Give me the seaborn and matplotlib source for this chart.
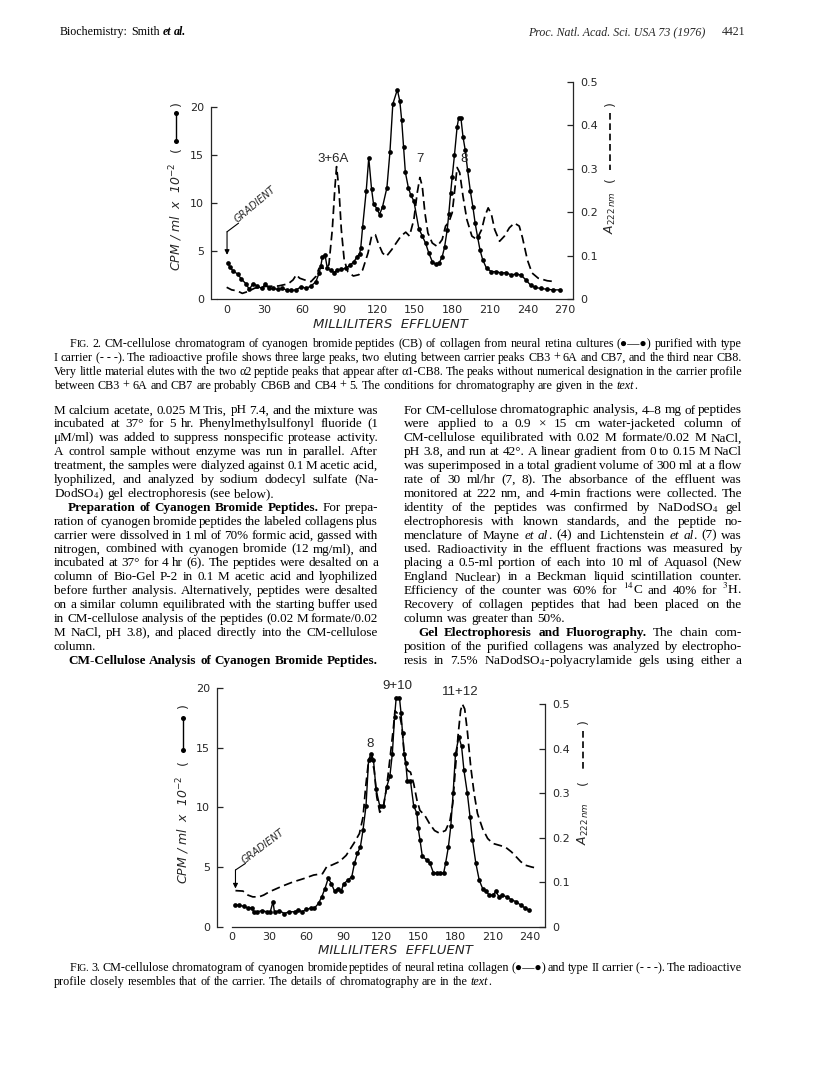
import re
import matplotlib
matplotlib.use("Agg")
import matplotlib.pyplot as plt
from matplotlib.lines import Line2D
from matplotlib import font_manager
import seaborn as sns

# ---------------- data ----------------
# Fig. 2 : radioactivity (CPM/ml x 10^-2) of neural retina collagen peptides
fig2_cpm_ml = [1.1, 2.5, 5.4, 8.8, 11.6, 15.3, 18.1, 21, 24.6, 28, 30.8, 33.9, 37.3, 40.7, 44.4,
               47.8, 51.7, 55.6, 59.5, 63.4, 67.3, 71.2, 73.8, 75.1, 76.4, 78.5, 80.3, 82.9, 85.6,
               88.2, 91.5, 95.2, 98.7, 101.7, 104, 106.1, 107, 108.5, 111.4, 113.4, 115.6, 117.2,
               120, 122, 124.4, 127.9, 130.3, 132.6, 136.2, 138.2, 139.7, 141.2, 142.6, 145, 147,
               149.4, 153.4, 156, 158.8, 161.4, 164.1, 166.7, 169.4, 172, 173.9, 176, 177.3, 178.7,
               180, 181.8, 183.9, 185.2, 187, 188.6, 190.4, 192.3, 194.4, 196.5, 198.3, 200.2,
               202.2, 204.3, 207.4, 211.3, 215.2, 219.1, 223.1, 227, 230.9, 234.8, 238.7, 242.5,
               246.1, 251, 256, 260.8, 265.7]
fig2_cpm = [3.8, 3.3, 2.9, 2.6, 2.1, 1.6, 1.0, 1.6, 1.35, 1.1, 1.55, 1.1, 1.1, 1.0, 1.1, 0.95, 0.9,
            0.95, 1.3, 1.1, 1.35, 1.8, 2.7, 3.4, 4.4, 4.6, 3.2, 3.0, 2.75, 3.0, 3.1, 3.2, 3.55, 3.9,
            4.4, 4.7, 5.3, 7.5, 11.3, 14.7, 11.5, 9.9, 9.4, 8.8, 9.6, 11.6, 15.3, 20.3, 21.8, 20.6,
            18.6, 15.8, 13.2, 11.6, 10.8, 10.2, 7.3, 6.6, 5.8, 4.75, 3.9, 3.6, 3.7, 4.4, 5.4, 7.2,
            8.9, 11.0, 12.7, 15.0, 17.9, 18.9, 18.8, 16.9, 15.5, 13.4, 11.3, 9.6, 7.9, 6.5, 5.1,
            4.1, 3.2, 2.85, 2.85, 2.7, 2.75, 2.5, 2.6, 2.5, 2.0, 1.45, 1.2, 1.1, 1.0, 0.95, 0.95]
# Fig. 2 : carrier absorbance A222nm
fig2_abs_ml = [0, 4, 8.2, 12.5, 16.7, 22.4, 30.8, 41.2, 49.1, 53, 55.6, 58.2, 62.1, 67.3, 71.2,
               73.8, 79, 81.6, 84.3, 86.3, 87.7, 89.6, 91.5, 93.8, 96.7, 101.1, 105.5, 108.5,
               112.8, 115.7, 118.7, 120.9, 124.4, 127.4, 131.8, 135.3, 139.1, 142.9, 145.9, 149.4,
               152.1, 154.2, 156.1, 158.2, 160.6, 164.1, 168, 172, 174.7, 177.3, 180, 182.1, 183.9,
               186, 188.6, 191.7, 195.7, 199.6, 203.5, 206.1, 208.7, 211.3, 213.9, 217.8, 221.7,
               225.6, 229.6, 233.5, 236.1, 240, 243.7, 248.6, 255.9, 262]
fig2_abs = [0.027, 0.021, 0.019, 0.013, 0.017, 0.025, 0.029, 0.030, 0.035, 0.044, 0.056, 0.048,
            0.044, 0.040, 0.052, 0.071, 0.071, 0.079, 0.16, 0.253, 0.305, 0.253, 0.16, 0.09, 0.063,
            0.053, 0.056, 0.067, 0.106, 0.145, 0.148, 0.129, 0.106, 0.098, 0.114, 0.129, 0.145,
            0.154, 0.145, 0.183, 0.245, 0.28, 0.26, 0.199, 0.152, 0.129, 0.121, 0.137, 0.168,
            0.177, 0.199, 0.253, 0.303, 0.291, 0.237, 0.183, 0.145, 0.137, 0.16, 0.191, 0.21,
            0.195, 0.16, 0.133, 0.145, 0.164, 0.175, 0.168, 0.141, 0.09, 0.06, 0.048, 0.042, 0.040]

# Fig. 3 : radioactivity of neural retina collagen peptides
fig3_cpm_ml = [3, 6, 10, 13.4, 16.3, 17.7, 20.7, 24.4, 28, 31, 33.2, 34.4, 38.3, 42.3, 45.9, 50.5,
               53.5, 56.5, 60, 63.4, 66.5, 69.8, 72.4, 75, 77.6, 80.2, 82.8, 85.3, 88, 90, 93.6,
               96.6, 98.7, 101.1, 103.5, 105.6, 108, 110.1, 112.2, 114, 116.1, 119.1, 122, 124.6,
               127.2, 129.2, 131, 132.3, 134.9, 136.2, 137.4, 138.7, 140, 141.3, 143.8, 146.4, 149,
               150, 151.4, 153.3, 156.8, 159.5, 162.3, 165, 167.8, 170.5, 172, 174.3, 176.2, 178.1,
               180, 182.7, 184.9, 186.8, 189.5, 191.7, 193.6, 196.4, 199.1, 201.8, 204.5, 207.3,
               210, 212.5, 215, 217.5, 221.3, 225, 228.8, 232.5, 236.3, 238.8]
fig3_cpm = [1.8, 1.8, 1.7, 1.55, 1.6, 1.2, 1.25, 1.35, 1.25, 1.25, 2.1, 1.2, 1.35, 1.1, 1.25, 1.25,
            1.4, 1.25, 1.45, 1.55, 1.55, 1.95, 2.5, 3.2, 4.05, 3.6, 2.95, 3.2, 2.95, 3.6, 3.9, 4.2,
            5.3, 6.15, 6.7, 8.1, 10.1, 14.0, 14.5, 14.0, 11.5, 10.1, 10.1, 11.7, 12.6, 14.5, 17.6,
            19.2, 19.2, 17.9, 16.2, 14.5, 13.7, 12.2, 12.2, 10.1, 9.5, 8.25, 7.3, 5.9, 5.6, 5.3,
            4.5, 4.5, 4.5, 4.5, 5.3, 6.7, 8.4, 11.2, 14.5, 15.9, 15.1, 13.1, 11.2, 9.2, 7.3, 5.3,
            3.9, 3.2, 2.95, 2.65, 2.65, 2.95, 2.5, 2.65, 2.5, 2.25, 2.1, 1.8, 1.55, 1.4]
# Fig. 3 : carrier absorbance
fig3_abs_ml = [3, 9, 13, 16.9, 21.9, 25.7, 30, 39.7, 48.8, 57.9, 65.9, 73, 76.7, 80.2, 86.6, 92,
               98.2, 102.7, 105.6, 107.7, 110.1, 112.4, 114.6, 116.7, 119.1, 122, 124.6, 127.7,
               130.1, 131.3, 133.6, 134.9, 137, 138.7, 141.3, 143.8, 146.4, 149, 151.4, 155.3,
               159.2, 163.1, 167, 172, 175.6, 177.8, 180, 182.2, 184.1, 185.5, 187.4, 189.5, 192.3,
               195, 197.7, 201.8, 205.9, 210, 215, 220, 225, 228.8, 232.5, 236.3, 241.3, 246.3]
fig3_abs = [0.081, 0.080, 0.071, 0.067, 0.067, 0.071, 0.078, 0.09, 0.10, 0.108, 0.116, 0.119,
            0.136, 0.138, 0.146, 0.16, 0.187, 0.209, 0.246, 0.313, 0.373, 0.381, 0.351, 0.291,
            0.257, 0.269, 0.313, 0.388, 0.448, 0.485, 0.478, 0.478, 0.448, 0.388, 0.351, 0.347,
            0.321, 0.284, 0.261, 0.25, 0.231, 0.216, 0.21, 0.216, 0.239, 0.276, 0.358, 0.433,
            0.485, 0.5, 0.489, 0.44, 0.358, 0.299, 0.254, 0.22, 0.198, 0.187, 0.183, 0.179,
            0.168, 0.157, 0.146, 0.138, 0.134, 0.131]

fig2_xticks = [0, 30, 60, 90, 120, 150, 180, 210, 240, 270]
fig3_xticks = [0, 30, 60, 90, 120, 150, 180, 210, 240]
cpm_ticks = [0, 5, 10, 15, 20]
abs_ticks = [0, 0.1, 0.2, 0.3, 0.4, 0.5]
abs_ticklabels = ["0", "0.1", "0.2", "0.3", "0.4", "0.5"]
fig2_peaks = ["3+6A", "7", "8"]
fig2_peak_pos = [(85, 14.6), (154, 14.6), (189.5, 14.6)]
fig3_peaks = ["8", "9+10", "11+12"]
fig3_peak_pos = [(111.5, 15.3), (133, 20.2), (184, 19.7)]

header_left = "Biochemistry:  Smith <j>et al.</j>"
header_right = "Proc. Natl. Acad. Sci. USA 73 (1976)"
page_no = "4421"

cap2 = [
    (True, "F<s>IG.</s> 2.  CM-cellulose chromatogram of cyanogen bromide peptides (CB) of collagen from neural retina cultures (\u25cf\u2014\u25cf) purified with type", True),
    (False, "I carrier (-\u00a0-\u00a0-). The radioactive profile shows three large peaks, two eluting between carrier peaks CB3 + 6A and CB7, and the third near CB8.", True),
    (False, "Very little material elutes with the two \u03b12 peptide peaks that appear after \u03b11-CB8. The peaks without numerical designation in the carrier profile", True),
    (False, "between CB3 + 6A and CB7 are probably CB6B and CB4 + 5. The conditions for chromatography are given in the <i>text</i>.", False),
]
cap3 = [
    (True, "F<s>IG.</s> 3.  CM-cellulose chromatogram of cyanogen bromide peptides of neural retina collagen (\u25cf\u2014\u25cf) and type II carrier (-\u00a0-\u00a0-). The radioactive", True),
    (False, "profile closely resembles that of the carrier. The details of chromatography are in the <i>text</i>.", False),
]
left_col = [
    (False, "M calcium acetate, 0.025 M Tris, pH 7.4, and the mixture was", True),
    (False, "incubated at 37\u00b0 for 5 hr. Phenylmethylsulfonyl fluoride (1", True),
    (False, "\u03bcM/ml) was added to suppress nonspecific protease activity.", True),
    (False, "A control sample without enzyme was run in parallel. After", True),
    (False, "treatment, the samples were dialyzed against 0.1 M acetic acid,", True),
    (False, "lyophilized, and analyzed by sodium dodecyl sulfate (Na-", True),
    (False, "DodSO$_4$) gel electrophoresis (see below).", False),
    (True, "<b>Preparation of Cyanogen Bromide Peptides.</b> For prepa-", True),
    (False, "ration of cyanogen bromide peptides the labeled collagens plus", True),
    (False, "carrier were dissolved in 1 ml of 70% formic acid, gassed with", True),
    (False, "nitrogen, combined with cyanogen bromide (12 mg/ml), and", True),
    (False, "incubated at 37\u00b0 for 4 hr (6). The peptides were desalted on a", True),
    (False, "column of Bio-Gel P-2 in 0.1 M acetic acid and lyophilized", True),
    (False, "before further analysis. Alternatively, peptides were desalted", True),
    (False, "on a similar column equilibrated with the starting buffer used", True),
    (False, "in CM-cellulose analysis of the peptides (0.02 M formate/0.02", True),
    (False, "M NaCl, pH 3.8), and placed directly into the CM-cellulose", True),
    (False, "column.", False),
    (True, "<b>CM-Cellulose Analysis of Cyanogen Bromide Peptides.</b>", True),
]
right_col = [
    (False, "For CM-cellulose chromatographic analysis, 4\u20138 mg of peptides", True),
    (False, "were applied to a 0.9 \u00d7 15 cm water-jacketed column of", True),
    (False, "CM-cellulose equilibrated with 0.02 M formate/0.02 M NaCl,", True),
    (False, "pH 3.8, and run at 42\u00b0. A linear gradient from 0 to 0.15 M NaCl", True),
    (False, "was superimposed in a total gradient volume of 300 ml at a flow", True),
    (False, "rate of 30 ml/hr (7, 8). The absorbance of the effluent was", True),
    (False, "monitored at 222 nm, and 4-min fractions were collected. The", True),
    (False, "identity of the peptides was confirmed by NaDodSO$_4$ gel", True),
    (False, "electrophoresis with known standards, and the peptide no-", True),
    (False, "menclature of Mayne <i>et al</i>. (4) and Lichtenstein <i>et al</i>. (7) was", True),
    (False, "used. Radioactivity in the effluent fractions was measured by", True),
    (False, "placing a 0.5-ml portion of each into 10 ml of Aquasol (New", True),
    (False, "England Nuclear) in a Beckman liquid scintillation counter.", True),
    (False, "Efficiency of the counter was 60% for $^{14}$C and 40% for $^{3}$H.", True),
    (False, "Recovery of collagen peptides that had been placed on the", True),
    (False, "column was greater than 50%.", False),
    (True, "<b>Gel Electrophoresis and Fluorography.</b> The chain com-", True),
    (False, "position of the purified collagens was analyzed by electropho-", True),
    (False, "resis in 7.5% NaDodSO$_4$-polyacrylamide gels using either a", True),
]

# ---------------- setup ----------------
sns.set_style("white")
plt.rcParams["font.family"] = ["DejaVu Sans"]
FW, FH = 816, 1078
fig = plt.figure(figsize=(FW / 100, FH / 100), dpi=100)
fig.patch.set_facecolor("white")
renderer = fig.canvas.get_renderer()

names = {f.name for f in font_manager.fontManager.ttflist}
NARROW = "Liberation Sans Narrow" if "Liberation Sans Narrow" in names else "Liberation Sans"
SERIF = "Liberation Serif"
HEAD = "Liberation Serif"
SANS = "DejaVu Sans"


def rect(l, t, r, b):
    return [l / FW, 1 - b / FH, (r - l) / FW, (b - t) / FH]


def ftext(x, y, s, **kw):
    return fig.text(x / FW, 1 - y / FH, s, **kw)


def fline(xs, ys, **kw):
    ln = Line2D([x / FW for x in xs], [1 - y / FH for y in ys], transform=fig.transFigure, **kw)
    fig.add_artist(ln)


# ---------------- charts ----------------
def chart(box, xlim, ylim_l, ylim_r, bottom_bounds, xticks, cx, cy, ax_, ay):
    ax = fig.add_axes(rect(*box))
    sns.lineplot(x=cx, y=cy, ax=ax, color="black", linewidth=1.0, marker="o",
                 markersize=3.4, markeredgewidth=0, sort=False)
    axr = ax.twinx()
    sns.lineplot(x=ax_, y=ay, ax=axr, color="black", linewidth=1.25,
                 linestyle=(0, (5, 2.6)), sort=False)
    ax.set_xlim(*xlim)
    ax.set_ylim(*ylim_l)
    axr.set_ylim(*ylim_r)
    for a in (ax, axr):
        a.set_xlabel("")
        a.set_ylabel("")
        a.patch.set_visible(False)
    ax.spines["top"].set_visible(False)
    ax.spines["right"].set_visible(False)
    ax.spines["left"].set_bounds(0, 20)
    ax.spines["bottom"].set_bounds(*bottom_bounds)
    for s in ("top", "left", "bottom"):
        axr.spines[s].set_visible(False)
    axr.spines["right"].set_bounds(0, 0.5)
    for sp in list(ax.spines.values()) + list(axr.spines.values()):
        sp.set_linewidth(0.9)
    ax.set_xticks(xticks)
    ax.set_xticklabels([str(v) for v in xticks])
    ax.set_yticks(cpm_ticks)
    ax.set_yticklabels([str(v) for v in cpm_ticks])
    axr.set_yticks(abs_ticks)
    axr.set_yticklabels(abs_ticklabels)
    ax.tick_params(axis="both", direction="in", length=4, width=0.9, labelsize=8)
    ax.tick_params(axis="x", pad=4)
    ax.tick_params(axis="y", pad=5)
    axr.tick_params(axis="y", direction="in", length=4, width=0.9, labelsize=8, pad=5)
    return ax, axr


ax2, ax2r = chart((211, 82, 573, 299), (-12.5, 276.4), (0, 22.6), (0, 0.5), (-8, 276.4),
                  fig2_xticks, fig2_cpm_ml, fig2_cpm, fig2_abs_ml, fig2_abs)
ax3, ax3r = chart((216.7, 688, 545, 926.7), (-12.1, 252), (0, 20), (0, 0.536), (0, 252),
                  fig3_xticks, fig3_cpm_ml, fig3_cpm, fig3_abs_ml, fig3_abs)

for lab, (px, py) in zip(fig2_peaks, fig2_peak_pos):
    ax2.text(px, py, lab, ha="center", va="center", fontsize=9.5, family=NARROW, clip_on=False)
for lab, (px, py) in zip(fig3_peaks, fig3_peak_pos):
    ax3.text(px, py, lab, ha="center", va="center", fontsize=9.5, family=NARROW, clip_on=False)

# gradient arrows
ax2.annotate("", xy=(0.3, 4.6), xytext=(0.3, 7.0),
             arrowprops=dict(arrowstyle="-|>", lw=0.8, color="black", mutation_scale=7,
                             shrinkA=0, shrinkB=0))
ax2.annotate("", xy=(0.3, 7.0), xytext=(9.5, 7.9),
             arrowprops=dict(arrowstyle="-", lw=0.8, color="black", shrinkA=0, shrinkB=0))
ax2.text(10.0, 7.75, "GRADIENT", rotation=40, rotation_mode="anchor", ha="left", va="bottom",
         fontsize=7, style="italic")
ax3.annotate("", xy=(3, 3.2), xytext=(3, 4.75),
             arrowprops=dict(arrowstyle="-|>", lw=0.8, color="black", mutation_scale=7,
                             shrinkA=0, shrinkB=0))
ax3.annotate("", xy=(3, 4.75), xytext=(11, 5.3),
             arrowprops=dict(arrowstyle="-", lw=0.8, color="black", shrinkA=0, shrinkB=0))
ax3.text(11.5, 5.15, "GRADIENT", rotation=37, rotation_mode="anchor", ha="left", va="bottom",
         fontsize=7, style="italic")


# axis labels (figure-pixel placement)
def axis_labels(xl, yl_x, yl_y, sym_x, sym_y0, sym_y1, par_lo, par_hi,
                ar_x, ar_y, dash_y0, dash_y1, apar_lo, apar_hi):
    ftext(xl[0], xl[1], "MILLILITERS  EFFLUENT", ha="center", va="center", fontsize=9.5,
          style="italic", family=SANS)
    ftext(yl_x, yl_y, "CPM / ml  x  10$^{-2}$", rotation=90, ha="center", va="center",
          fontsize=9, style="italic", family=SANS)
    ftext(sym_x, par_lo, "(", rotation=90, ha="center", va="center", fontsize=9, family=SANS)
    ftext(sym_x, par_hi, ")", rotation=90, ha="center", va="center", fontsize=9, family=SANS)
    fline([sym_x, sym_x], [sym_y0, sym_y1], color="black", lw=1.0, marker="o", markersize=3.6,
          markeredgewidth=0)
    ftext(ar_x, ar_y, r"$\mathit{A}_{\mathit{222\,nm}}$", rotation=90, ha="center", va="center",
          fontsize=9, math_fontfamily="dejavusans")
    ftext(ar_x, apar_lo, "(", rotation=90, ha="center", va="center", fontsize=9, family=SANS)
    ftext(ar_x, apar_hi, ")", rotation=90, ha="center", va="center", fontsize=9, family=SANS)
    fline([ar_x, ar_x], [dash_y0, dash_y1], color="black", lw=1.2, linestyle=(0, (4, 2.2)))


axis_labels((390, 325), 176, 217, 176, 113, 141, 150, 104, 610, 213, 113, 170, 180, 104)
axis_labels((395, 950), 183, 830, 183, 718, 750, 763, 706, 583, 824, 731, 771, 783, 722)

# ---------------- text blocks ----------------
def _mk(s, size, st, x=0.0, y=0.0, family=SERIF):
    kw = dict(fontsize=size, family=[family, "DejaVu Sans"], math_fontfamily="stix",
              ha="left", va="baseline", color="black")
    if st in ("b", "j"):
        kw["fontweight"] = "bold"
    if st in ("i", "j"):
        kw["fontstyle"] = "italic"
    if st == "s":
        kw["fontsize"] = size * 0.8
        s = s.upper()
    return fig.text(x / FW, 1 - y / FH, s, **kw)


_wc = {}


def _w(s, size, st, family=SERIF):
    key = (s, round(size, 3), st, family)
    if key not in _wc:
        t = _mk(s, size, st, family=family)
        _wc[key] = t.get_window_extent(renderer).width
        t.remove()
    return _wc[key]


def parse(line):
    words = []
    style = "n"
    glue = False
    for part in re.split(r"(</?[bisj]>)", line):
        m = re.fullmatch(r"<(/?)([bisj])>", part)
        if m:
            style = "n" if m.group(1) else m.group(2)
            continue
        if not part:
            continue
        pieces = part.split(" ")
        for k, p in enumerate(pieces):
            if p == "":
                continue
            if k == 0 and words and glue:
                words[-1].append((p, style))
            else:
                words.append([(p, style)])
        glue = not part.endswith(" ")
    return words


def natural(words, size, family=SERIF, sp_em=0.17):
    tot = sum(_w(t, size, st, family) for w in words for t, st in w)
    return tot + (len(words) - 1) * size * 100 / 72 * sp_em


def draw_line(words, x0, x1, y, size, justify, family=SERIF):
    widths = [[_w(t, size, st, family) for t, st in w] for w in words]
    total = sum(sum(ws) for ws in widths)
    n = len(words)
    sp = size * 100 / 72 * 0.25
    if justify and n > 1:
        sp = (x1 - x0 - total) / (n - 1)
    x = x0
    for w, ws in zip(words, widths):
        for (t, st), pw in zip(w, ws):
            _mk(t, size, st, x, y, family)
            x += pw
        x += sp


def draw_block(lines, x0, x1, y0, dy, base, indent):
    parsed = [(ind, parse(tx), j) for ind, tx, j in lines]
    ratios = []
    for ind, words, j in parsed:
        if j:
            avail = x1 - x0 - (indent if ind else 0)
            ratios.append(avail / natural(words, base))
    scale = min(ratios)
    scale = max(0.7, min(1.3, scale))
    size = base * scale
    for i, (ind, words, j) in enumerate(parsed):
        draw_line(words, x0 + (indent if ind else 0), x1, y0 + i * dy, size, j)


LX0, LX1, RX0, RX1 = 54, 378, 404, 742
draw_block(cap2, LX0, RX1, 347, 14.0, 7.0, 16)
draw_block(left_col, LX0, LX1, 413.5, 13.9, 7.8, 14)
draw_block(right_col, RX0, RX1, 413.5, 13.9, 7.8, 14)
draw_block(cap3, LX0, RX1, 971, 14.0, 7.0, 16)

# header
draw_line(parse(header_left), 60, 400, 35, 8.6, False, family=HEAD)
ftext(705, 35, header_right, ha="right", va="baseline", fontsize=8.6, style="italic", family=HEAD)
ftext(745, 35, page_no, ha="right", va="baseline", fontsize=8.6, family=HEAD)

fig.savefig("out.png", dpi=100, facecolor="white")
